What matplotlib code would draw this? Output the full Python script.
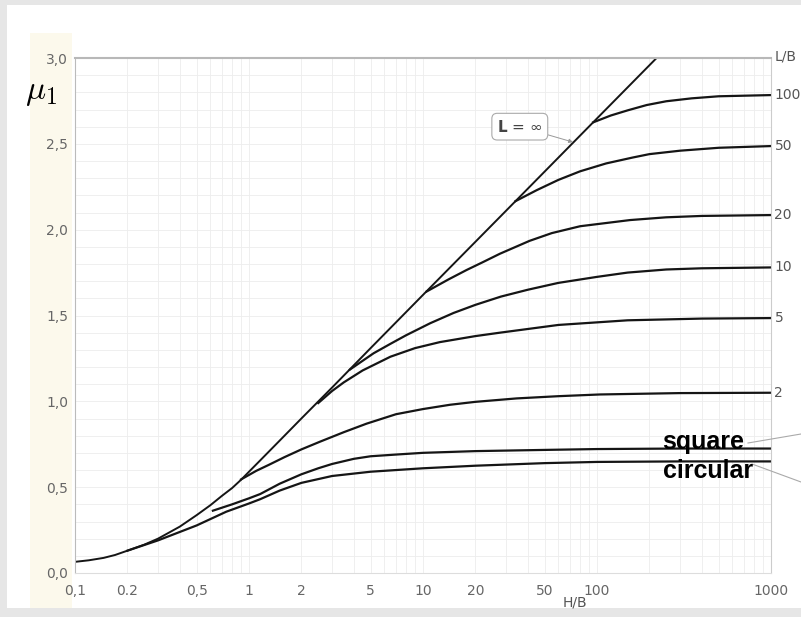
import numpy as np
import matplotlib.pyplot as plt
from matplotlib.patches import Rectangle
from matplotlib.lines import Line2D
from matplotlib.ticker import FixedLocator, NullFormatter

plt.rcParams['mathtext.fontset'] = 'cm'

# values (H/B, mu_1)
hb_inf = [0.1, 0.12, 0.146, 0.17, 0.2, 0.25, 0.3, 0.4, 0.5, 0.6, 0.7, 0.8, 0.9, 1.0, 1.16,
          1.5, 2, 3, 5, 10, 30, 100, 220]
mu_inf = [0.065, 0.074, 0.088, 0.105, 0.13, 0.165, 0.20, 0.27, 0.337, 0.395, 0.45, 0.495, 0.543,
          0.59, 0.656, 0.771, 0.90, 1.08, 1.31, 1.62, 2.11, 2.648, 3.0]

hb_100 = [95, 120, 150, 193, 250, 350, 500, 1000]
mu_100 = [2.625, 2.665, 2.695, 2.726, 2.748, 2.765, 2.777, 2.784]

hb_50 = [34, 45, 60, 80, 113, 160, 200, 300, 500, 1000]
mu_50 = [2.166, 2.23, 2.29, 2.34, 2.386, 2.42, 2.44, 2.46, 2.477, 2.487]

hb_20 = [10.5, 14, 17.8, 22, 27.7, 41, 55, 80, 155, 250, 400, 1000]
mu_20 = [1.64, 1.71, 1.765, 1.81, 1.86, 1.935, 1.98, 2.02, 2.056, 2.072, 2.08, 2.085]

hb_10 = [3.8, 5.2, 6.5, 8, 11, 15, 20, 28, 40, 60, 100, 150, 250, 400, 1000]
mu_10 = [1.185, 1.28, 1.335, 1.385, 1.455, 1.515, 1.562, 1.61, 1.65, 1.69, 1.725, 1.75, 1.768,
         1.775, 1.78]

hb_5 = [2.5, 3.0, 3.5, 4.5, 6.5, 9, 12.5, 20, 27.7, 60, 150, 400, 1000]
mu_5 = [0.99, 1.06, 1.11, 1.18, 1.26, 1.31, 1.345, 1.38, 1.40, 1.445, 1.472, 1.482, 1.485]

hb_2 = [0.9, 1.1, 1.3, 1.6, 2, 2.56, 3.5, 4.74, 7, 10, 14.3, 20, 34.5, 60, 104, 300, 1000]
mu_2 = [0.545, 0.595, 0.63, 0.675, 0.72, 0.765, 0.82, 0.87, 0.925, 0.955, 0.98, 0.997, 1.017,
        1.03, 1.04, 1.048, 1.05]

hb_sq = [0.62, 0.8, 1.0, 1.16, 1.5, 2, 2.5, 3, 4, 5, 7, 10, 20, 50, 100, 300, 1000]
mu_sq = [0.363, 0.40, 0.435, 0.46, 0.52, 0.575, 0.61, 0.635, 0.665, 0.68, 0.69, 0.70, 0.71,
         0.717, 0.722, 0.725, 0.725]

hb_circ = [0.2, 0.3, 0.4, 0.5, 0.74, 1.0, 1.16, 1.5, 2, 3, 5, 10, 20, 50, 100, 300, 1000]
mu_circ = [0.13, 0.19, 0.239, 0.277, 0.357, 0.405, 0.43, 0.48, 0.525, 0.565, 0.59, 0.61,
           0.625, 0.64, 0.647, 0.65, 0.65]

lb_labels = ['100', '50', '20', '10', '5', '2']
lb_curves = [(hb_100, mu_100), (hb_50, mu_50), (hb_20, mu_20),
             (hb_10, mu_10), (hb_5, mu_5), (hb_2, mu_2)]

xticks = [0.1, 0.2, 0.5, 1, 2, 5, 10, 20, 50, 100, 1000]
xticklabels = ['0,1', '0.2', '0,5', '1', '2', '5', '10', '20', '50', '100', '1000']
yticks = [0.0, 0.5, 1.0, 1.5, 2.0, 2.5, 3.0]
yticklabels = ['0,0', '0,5', '1,0', '1,5', '2,0', '2,5', '3,0']

W, H = 801, 617
fig = plt.figure(figsize=(W / 100, H / 100), dpi=100, facecolor='#e6e6e6')
# white scanned page + cream margin
fig.patches.append(Rectangle((7 / W, 1 - 608 / H), 1, 603 / H, transform=fig.transFigure,
                             facecolor='white', edgecolor='none', zorder=-10))
fig.patches.append(Rectangle((30 / W, 1 - 608 / H), 42 / W, 575 / H, transform=fig.transFigure,
                             facecolor='#fcf9ec', edgecolor='none', zorder=-9))

ax = fig.add_axes([75 / W, 1 - 573 / H, 696 / W, 515 / H])
ax.set_zorder(1)
ax.set_facecolor('none')
ax.set_xscale('log')
ax.set_xlim(0.1, 1000)
ax.set_ylim(0, 3.0)

ink = '#151515'
ax.plot(hb_inf, mu_inf, color=ink, lw=1.4)
for hb, mu in lb_curves:
    ax.plot(hb, mu, color=ink, lw=1.6)
ax.plot(hb_sq, mu_sq, color=ink, lw=1.6)
ax.plot(hb_circ, mu_circ, color=ink, lw=1.6)

# faint grid of the scanned paper
ax.xaxis.set_minor_locator(FixedLocator([k * 10.0 ** e for e in range(-1, 3) for k in range(2, 10)]))
ax.xaxis.set_minor_formatter(NullFormatter())
ax.yaxis.set_minor_locator(FixedLocator(np.arange(0, 3.01, 0.1)))
ax.grid(True, which='both', color='#ededed', lw=0.6)
ax.set_axisbelow(True)

ax.set_xticks(xticks)
ax.set_xticklabels(xticklabels)
ax.set_yticks(yticks)
ax.set_yticklabels(yticklabels)
ax.tick_params(which='both', length=0, colors='#666666', labelsize=10)
ax.tick_params(axis='x', pad=8)
ax.tick_params(axis='y', pad=5)

ax.spines['top'].set_color('#b8b8b8')
ax.spines['top'].set_linewidth(1.5)
ax.spines['left'].set_color('#bbbbbb')
ax.spines['right'].set_color('#cccccc')
ax.spines['bottom'].set_color('#dddddd')

# L/B labels at right
for lab, (hb, mu) in zip(lb_labels, lb_curves):
    ax.annotate(lab, xy=(hb[-1], mu[-1]), xytext=(2.5, 0), textcoords='offset points',
                ha='left', va='center', fontsize=10, color='#555555', annotation_clip=False)
ax.annotate('L/B', xy=(1000, 3.0), xytext=(2.5, 1), textcoords='offset points',
            ha='left', va='center', fontsize=10, color='#555555', annotation_clip=False)

ax.annotate(r'$\mathbf{L}$ = ∞', xy=(72.8, 2.51), xytext=(36, 2.6),
            ha='center', va='center', fontsize=11, color='#444444', math_fontfamily='dejavusans',
            bbox=dict(boxstyle='round,pad=0.35', fc='white', ec='#aaaaaa', lw=0.8),
            arrowprops=dict(arrowstyle='-|>', color='#999999', lw=0.7, mutation_scale=6,
                            shrinkA=0, shrinkB=0))

fig.text(575 / W, 1 - 603 / H, 'H/B', ha='center', va='center', fontsize=10, color='#555555')
fig.text(25 / W, 1 - 99 / H, r'$\mu_1$', ha='left', va='baseline', fontsize=24, color='black')

fig.text(662 / W, 1 - 442 / H, 'square', ha='left', va='center', fontsize=18,
         fontweight='bold', family='Liberation Sans', color='black', zorder=5)
fig.text(663 / W, 1 - 471 / H, 'circular', ha='left', va='center', fontsize=18,
         fontweight='bold', family='Liberation Sans', color='black', zorder=5)
fig.lines.append(Line2D([748 / W, 1.0], [1 - 443 / H, 1 - 434 / H], transform=fig.transFigure,
                        color='#aaaaaa', lw=0.8, zorder=5))
fig.lines.append(Line2D([752 / W, 1.0], [1 - 464 / H, 1 - 482 / H], transform=fig.transFigure,
                        color='#aaaaaa', lw=0.8, zorder=5))

fig.savefig('out.png', dpi=100, facecolor=fig.get_facecolor())
